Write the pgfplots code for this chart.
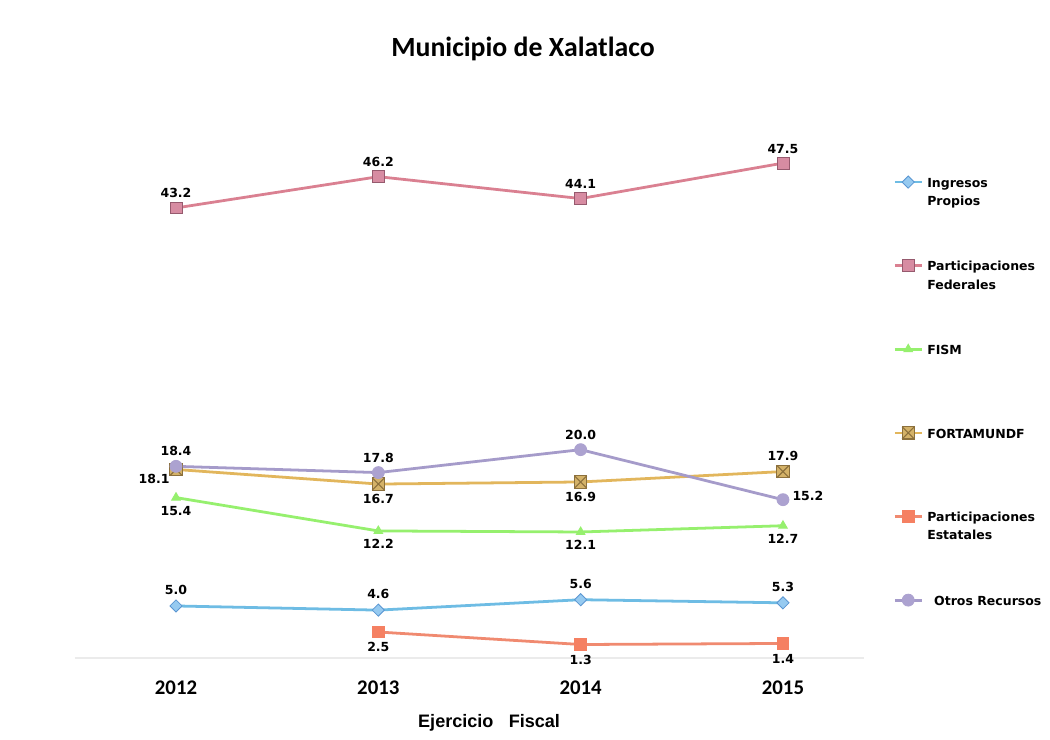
\documentclass[border=0pt]{standalone}
\usepackage{fontspec}
\setmainfont{DejaVu Sans}
\newfontfamily\carlito{Carlito}
\newfontfamily\libsans{Liberation Sans}
\usepackage{pgfplots}
\pgfplotsset{compat=1.18}

\definecolor{ipLine}{RGB}{110,188,228}
\definecolor{ipFill}{RGB}{150,202,240}
\definecolor{ipEdge}{RGB}{90,150,210}
\definecolor{pfLine}{RGB}{218,128,145}
\definecolor{pfFill}{RGB}{215,140,162}
\definecolor{pfEdge}{RGB}{150,90,110}
\definecolor{fismLine}{RGB}{150,240,110}
\definecolor{ftLine}{RGB}{226,182,92}
\definecolor{ftFill}{RGB}{212,178,104}
\definecolor{ftEdge}{RGB}{140,112,60}
\definecolor{peLine}{RGB}{240,138,112}
\definecolor{peFill}{RGB}{245,128,98}
\definecolor{orLine}{RGB}{165,155,202}
\definecolor{orFill}{RGB}{172,162,208}

% square with a cross, as in the FORTAMUNDF series
\pgfdeclareplotmark{sqx}{%
  \pgfpathrectangle{\pgfqpoint{-\pgfplotmarksize}{-\pgfplotmarksize}}{\pgfqpoint{2\pgfplotmarksize}{2\pgfplotmarksize}}%
  \pgfusepathqfillstroke
  \pgfpathmoveto{\pgfqpoint{-\pgfplotmarksize}{-\pgfplotmarksize}}%
  \pgfpathlineto{\pgfqpoint{\pgfplotmarksize}{\pgfplotmarksize}}%
  \pgfpathmoveto{\pgfqpoint{-\pgfplotmarksize}{\pgfplotmarksize}}%
  \pgfpathlineto{\pgfqpoint{\pgfplotmarksize}{-\pgfplotmarksize}}%
  \pgfusepathqstroke}

\newcommand{\lbl}{\pgfmathprintnumber[fixed,fixed zerofill,precision=1,assume math mode=true]{\pgfplotspointmeta}}
\newcommand{\entry}[2]{\parbox[t]{3cm}{\strut#1\\\strut#2}}

\pgfplotsset{
  vals/.style={draw=none, mark=none, forget plot,
    nodes near coords=\lbl,
    every node near coord/.append style={font=\bfseries\fontsize{9}{11}\selectfont,
      text=black, anchor=center, inner sep=0pt, #1}},
}

\begin{document}
\begin{tikzpicture}
\path[use as bounding box, fill=white] (-53.9pt,-59.0pt) rectangle (702.1pt,473.8pt);
\begin{axis}[
  at={(0,0)}, anchor=south west,
  scale only axis,
  width=568.1pt, height=375.1pt,
  xmin=2011.5, xmax=2015.4,
  ymin=0, ymax=50,
  axis y line=none,
  axis x line*=bottom,
  x axis line style={draw=black!8, line width=0.8pt, -},
  xtick={2012,2013,2014,2015},
  xticklabels={2012,2013,2014,2015},
  xtick style={draw=none},
  xticklabel style={font=\carlito\bfseries\fontsize{15}{15}\selectfont, anchor=center, yshift=-21.6pt},
  xlabel={Ejercicio\hspace{0.85em}Fiscal},
  xlabel style={font=\libsans\bfseries\fontsize{13}{13}\selectfont,
    at={(axis description cs:0.525,-0.1248)}, anchor=center},
  title={Municipio de Xalatlaco},
  title style={font=\carlito\bfseries\fontsize{20}{20}\selectfont,
    at={(axis description cs:0.568,1.1536)}, anchor=center},
  clip=false,
  legend style={at={(axis description cs:1.037,0.931)}, anchor=north west,
    draw=none, fill=none, inner sep=0pt,
    font=\bfseries\fontsize{9}{13}\selectfont,
    row sep=47.6pt, column sep=2pt,
    nodes={inner sep=1pt}},
  legend cell align=left,
  legend image code/.code={%
    \draw[mark repeat=2,mark phase=2,#1]
      plot coordinates {(0pt,0pt) (9.7pt,0pt) (19.4pt,0pt)};},
  every axis plot/.append style={line width=2pt},
]

% Ingresos Propios
\addplot[color=ipLine, mark=square*, mark size=3.1pt,
  mark options={rotate=45, fill=ipFill, draw=ipEdge, line width=0.6pt}]
  coordinates {(2012,5.0)(2013,4.6)(2014,5.6)(2015,5.3)};
\addlegendentry{\entry{Ingresos}{Propios}}

% Participaciones Federales
\addplot[color=pfLine, mark=square*, mark size=4.3pt,
  mark options={fill=pfFill, draw=pfEdge, line width=0.6pt}]
  coordinates {(2012,43.2)(2013,46.2)(2014,44.1)(2015,47.5)};
\addlegendentry{\entry{Participaciones}{Federales}}

% FISM
\addplot[color=fismLine, mark=triangle*, mark size=3.6pt,
  mark options={fill=fismLine, draw=fismLine, line width=0.6pt}]
  coordinates {(2012,15.4)(2013,12.2)(2014,12.1)(2015,12.7)};
\addlegendentry{\entry{FISM}{}}

% FORTAMUNDF
\addplot[color=ftLine, mark=sqx, mark size=4.4pt,
  mark options={fill=ftFill, draw=ftEdge, line width=0.8pt}]
  coordinates {(2012,18.1)(2013,16.7)(2014,16.9)(2015,17.9)};
\addlegendentry{\entry{FORTAMUNDF}{}}

% Participaciones Estatales
\addplot[color=peLine, mark=square*, mark size=4.2pt,
  mark options={fill=peFill, draw=peFill, line width=0.6pt}]
  coordinates {(2013,2.5)(2014,1.3)(2015,1.4)};
\addlegendentry{\entry{Participaciones}{Estatales}}

% Otros Recursos
\addplot[color=orLine, mark=*, mark size=4.3pt,
  mark options={fill=orFill, draw=orFill, line width=0.6pt}]
  coordinates {(2012,18.4)(2013,17.8)(2014,20.0)(2015,15.2)};
\addlegendentry{\entry{\hspace{5pt}Otros Recursos}{}}

% data labels
\addplot[vals={yshift=11.5pt}] coordinates {(2012,5.0)(2013,4.6)(2014,5.6)(2015,5.3)};
\addplot[vals={yshift=10.5pt}] coordinates {(2012,43.2)(2013,46.2)(2014,44.1)(2015,47.5)};
\addplot[vals={yshift=-9.6pt}] coordinates {(2012,15.4)(2013,12.2)(2014,12.1)(2015,12.7)};
\addplot[vals={yshift=-11pt}] coordinates {(2013,16.7)(2014,16.9)};
\addplot[vals={yshift=11.3pt}] coordinates {(2015,17.9)};
\addplot[vals={xshift=-15.8pt, yshift=-6.5pt}] coordinates {(2012,18.1)};
\addplot[vals={yshift=-11pt}] coordinates {(2013,2.5)(2014,1.3)(2015,1.4)};
\addplot[vals={yshift=10.8pt}] coordinates {(2012,18.4)(2013,17.8)(2014,20.0)};
\addplot[vals={xshift=18pt, yshift=2.9pt}] coordinates {(2015,15.2)};

\end{axis}
\end{tikzpicture}
\end{document}
